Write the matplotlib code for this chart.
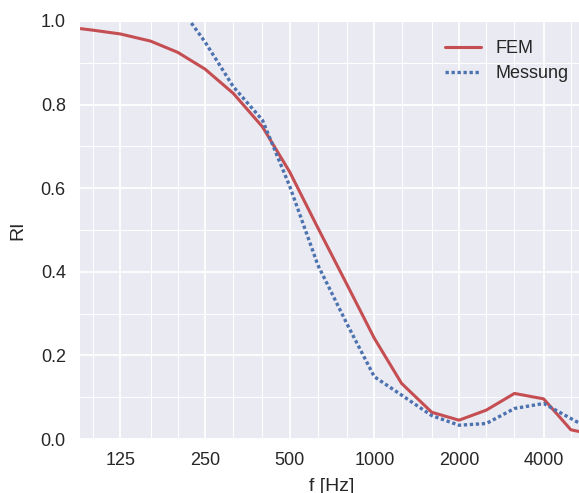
import matplotlib
matplotlib.use("Agg")
import matplotlib.pyplot as plt
import matplotlib.ticker as mticker
import seaborn as sns

# third-octave band centre frequencies
freq = [80, 100, 125, 160, 200, 250, 315, 400, 500, 630, 800,
        1000, 1250, 1600, 2000, 2500, 3150, 4000, 5000, 6300]
ri_fem = [0.986, 0.978, 0.969, 0.952, 0.925, 0.885, 0.827, 0.747, 0.639, 0.505,
          0.369, 0.241, 0.133, 0.064, 0.045, 0.069, 0.109, 0.096, 0.022, 0.008]

freq_mess = [160, 200, 250, 315, 400, 500, 630, 800,
             1000, 1250, 1600, 2000, 2500, 3150, 4000, 5000, 6300]
ri_mess = [1.12, 1.04, 0.950, 0.843, 0.763, 0.605, 0.416, 0.275,
           0.149, 0.105, 0.056, 0.033, 0.037, 0.073, 0.085, 0.049, 0.012]

major_ticks = [125, 250, 500, 1000, 2000, 4000]
minor_ticks = [100, 160, 200, 315, 400, 630, 800, 1250, 1600, 2500, 3150, 5000]

RED = "#C44E52"
BLUE = "#4C72B0"

sns.set_style("darkgrid")
plt.rcParams["font.family"] = ["Liberation Sans", "DejaVu Sans"]

fig = plt.figure(figsize=(5.79, 4.93), dpi=100)
ax = fig.add_axes([79 / 579, 54 / 493, 506 / 579, 418 / 493])

ax.plot(freq, ri_fem, color=RED, lw=2.2, label="FEM")
ax.plot(freq_mess, ri_mess, color=BLUE, lw=2.4, linestyle=(0, (1, 0.8)),
        label="Messung")

ax.set_xscale("log")
ax.set_xlim(89.1, 5612)
ax.set_ylim(0, 1)

ax.xaxis.set_major_locator(mticker.FixedLocator(major_ticks))
ax.xaxis.set_major_formatter(mticker.FixedFormatter([str(t) for t in major_ticks]))
ax.xaxis.set_minor_locator(mticker.FixedLocator(minor_ticks))
ax.xaxis.set_minor_formatter(mticker.NullFormatter())
ax.yaxis.set_major_locator(mticker.MultipleLocator(0.2))
ax.yaxis.set_minor_locator(mticker.MultipleLocator(0.1))
ax.yaxis.set_major_formatter(mticker.FormatStrFormatter("%.1f"))

ax.grid(which="major", color="white", lw=1.3)
ax.grid(which="minor", color="white", lw=0.7)
ax.tick_params(which="both", length=1.5, width=1, color=".15",
               labelsize=13, labelcolor=".15", pad=8)

ax.set_xlabel("f [Hz]", fontsize=14, color=".15", labelpad=6)
ax.set_ylabel("RI", fontsize=14, color=".15", labelpad=10)

ax.legend(loc="upper right", bbox_to_anchor=(1.0, 0.993), frameon=False,
          fontsize=13, handlelength=2.0, labelspacing=0.45)

fig.savefig("out.png", dpi=100)
